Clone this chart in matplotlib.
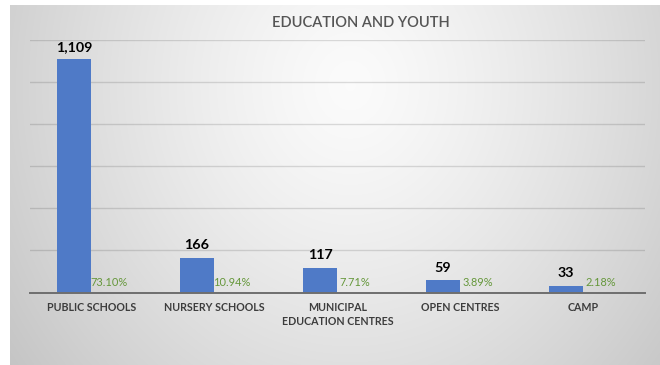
import numpy as np
import matplotlib
matplotlib.use("Agg")
import matplotlib.pyplot as plt

plt.rcParams['font.family'] = ['Lato', 'DejaVu Sans']

# Data
categories = ["PUBLIC SCHOOLS", "NURSERY SCHOOLS", "MUNICIPAL\nEDUCATION CENTRES",
              "OPEN CENTRES", "CAMP"]
counts = [1109, 166, 117, 59, 33]
shares = [73.10, 10.94, 7.71, 3.89, 2.18]
title = "EDUCATION AND YOUTH"

W, H = 660, 365
fig = plt.figure(figsize=(W / 100, H / 100), dpi=100)
fig.patch.set_facecolor("white")

# Radial grey gradient behind the chart area
bg = fig.add_axes([10 / W, 0, 650 / W, 360 / H])
bg.set_axis_off()
ny, nx = 360, 650
yy, xx = np.mgrid[0:ny, 0:nx]
cx, cy = 340, 80
d = np.sqrt(((xx - cx) / 340.0) ** 2 + ((yy - cy) / 380.0) ** 2)
val = np.clip(0.985 - 0.161 * d ** 1.3, 0.76, 1.0)
img = np.dstack([val, val, val])
bg.imshow(img, aspect="auto", origin="upper", extent=[0, 1, 0, 1])
bg.set_xlim(0, 1)
bg.set_ylim(0, 1)

# Main plot area
ax = fig.add_axes([30 / W, (H - 292.5) / H, 615 / W, 252.5 / H])
ax.patch.set_alpha(0)
x = np.arange(len(categories))
off = 0.142
bw = 0.276
bars = ax.bar(x - off, counts, width=bw, color="#4f7ac7", zorder=3)

ax.set_xlim(-0.5, len(categories) - 0.5)
ax.set_ylim(0, 1200)
ax.set_yticks(np.arange(0, 1201, 200))
ax.yaxis.grid(True, color="black", alpha=0.13, lw=1.0, zorder=0)
ax.tick_params(axis="y", left=False, labelleft=False)
for s in ["top", "right", "left"]:
    ax.spines[s].set_visible(False)
ax.spines["bottom"].set_color("#6e6e6e")
ax.spines["bottom"].set_linewidth(1.4)
ax.spines["bottom"].set_zorder(4)

ax.set_xticks(x)
ax.set_xticklabels(categories, fontsize=7.7, fontweight="bold", color="#3d3d3d",
                   linespacing=1.35)
ax.tick_params(axis="x", length=0, pad=7)

for xi, c in zip(x, counts):
    ax.annotate(f"{c:,}", (xi - off, c), xytext=(0, 8.5), textcoords="offset pixels",
                ha="center", va="baseline", fontsize=10.3, fontweight="bold", color="black")

for xi, s in zip(x, shares):
    ax.annotate(f"{s:.2f}%", (xi + off, 0), xytext=(0, 7), textcoords="offset pixels",
                ha="center", va="baseline", fontsize=7.9, color="#65973a")

fig.text(361 / W, 1 - 27 / H, title, ha="center", va="baseline",
         fontsize=10.5, color="#555555", fontweight="semibold")

fig.savefig("out.png", dpi=100)
